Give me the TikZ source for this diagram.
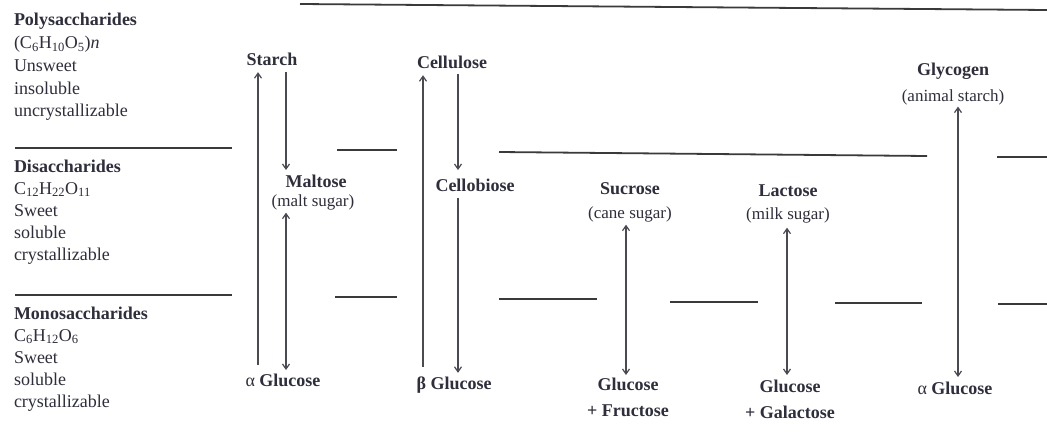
\documentclass[tikz,border=0pt]{standalone}
\usepackage{fontspec}
\setmainfont{Liberation Serif}
\usetikzlibrary{arrows.meta}
\definecolor{txt}{HTML}{2E2E3C}
\definecolor{linec}{HTML}{3A3A3A}
\definecolor{arrc}{HTML}{4A4A52}
\begin{document}
\begin{tikzpicture}[x=1pt,y=-1pt,
  every node/.style={inner sep=0pt, outer sep=0pt, text=txt},
  side/.style={anchor=base west, font=\fontsize{18}{20}\selectfont},
  sideh/.style={anchor=base west, font=\fontsize{18}{20}\selectfont\bfseries},
  lbl/.style={anchor=base, font=\fontsize{18}{20}\selectfont\bfseries},
  sub/.style={anchor=base, font=\fontsize{17}{20}\selectfont},
  pair/.style={align=center, font=\fontsize{18}{26}\selectfont\bfseries},
  rule/.style={draw=linec, line width=1.8pt},
  tipa/.tip={Straight Barb[length=5pt,width=7pt]},
  arr/.style={draw=arrc, line width=1.2pt, -tipa},
  darr/.style={draw=arrc, line width=1.2pt, tipa-tipa}]
\useasboundingbox[fill=white] (0,0) rectangle (1047,436);

% ---- left column ----
\node[sideh] (p1) at (14,26) {Polysaccharides};
\node[side]  (p2) at (14,49) {(C\textsubscript{6}H\textsubscript{10}O\textsubscript{5})\textit{n}};
\node[side]  (p3) at (14,72) {Unsweet};
\node[side]  (p4) at (14,94) {insoluble};
\node[side]  (p5) at (14,116) {uncrystallizable};

\node[sideh] (d1) at (14,172) {Disaccharides};
\node[side]  (d2) at (14,194) {C\textsubscript{12}H\textsubscript{22}O\textsubscript{11}};
\node[side]  (d3) at (14,216) {Sweet};
\node[side]  (d4) at (14,238) {soluble};
\node[side]  (d5) at (14,260) {crystallizable};

\node[sideh] (m1) at (14,319) {Monosaccharides};
\node[side]  (m2) at (14,341) {C\textsubscript{6}H\textsubscript{12}O\textsubscript{6}};
\node[side]  (m3) at (14,363) {Sweet};
\node[side]  (m4) at (14,385) {soluble};
\node[side]  (m5) at (14,407) {crystallizable};

% ---- rules ----
\draw[rule] (300,4) -- (1047,10);
\draw[rule] (15,148) -- (232,148);
\draw[rule] (337,150) -- (397,150);
\draw[rule] (499,152) -- (927,156);
\draw[rule] (997,157) -- (1047,157);
\draw[rule] (15,295) -- (232,295);
\draw[rule] (335,297) -- (397,297);
\draw[rule] (499,299) -- (597,299);
\draw[rule] (670,302) -- (758,302);
\draw[rule] (835,303) -- (922,303);
\draw[rule] (998,304) -- (1047,304);

% ---- labels ----
\node[lbl] (st)   at (272,66) {Starch};
\node[lbl] (mal)  at (316,187) {Maltose};
\node[sub] (mals) at (313,206) {(malt sugar)};
\node[lbl] (ag1)  at (283,386) {\normalfont\fontsize{18}{20}\selectfont α \bfseries Glucose};

\node[lbl] (cel)  at (452,69) {Cellulose};
\node[lbl] (cb)   at (475,191) {Cellobiose};
\node[lbl] (bg)   at (454,389) {β Glucose};

\node[lbl] (suc)  at (630,194) {Sucrose};
\node[sub] (sucs) at (630,218) {(cane sugar)};
\node[pair,anchor=north] (gf) at (628,378) {Glucose\\+ Fructose};

\node[lbl] (lac)  at (788,196) {Lactose};
\node[sub] (lacs) at (788,219) {(milk sugar)};
\node[pair,anchor=north] (gg) at (790,380) {Glucose\\+ Galactose};

\node[lbl] (gly)  at (953,76) {Glycogen};
\node[sub] (glys) at (953,101) {(animal starch)};
\node[lbl] (ag2)  at (955,394) {\normalfont\fontsize{18}{20}\selectfont α \bfseries Glucose};

% ---- arrows ----
\draw[arr] ([xshift=-25pt,yshift=8.5pt]ag1.north) -- ([xshift=-14pt,yshift=-6pt]st.south);
\draw[arr] ([xshift=14pt,yshift=-6pt]st.south) -- ([xshift=-30pt,yshift=4.5pt]mal.north);
\draw[darr] ([xshift=-27pt,yshift=-3pt]mals.south) -- ([xshift=3pt,yshift=3.5pt]ag1.north);

\draw[arr] ([xshift=-31pt,yshift=9.5pt]bg.north) -- ([xshift=-29pt,yshift=-6pt]cel.south);
\draw[arr] ([xshift=6pt,yshift=-5pt]cel.south) -- ([xshift=-17pt,yshift=8.5pt]cb.north);
\draw[arr] ([xshift=-17pt,yshift=-7pt]cb.south) -- ([xshift=4pt,yshift=3.5pt]bg.north);

\draw[darr] ([xshift=-4pt,yshift=-3pt]sucs.south) -- ([xshift=-2pt,yshift=3pt]gf.north);
\draw[darr] ([xshift=-1pt,yshift=-5pt]lacs.south) -- ([xshift=-3pt,yshift=5pt]gg.north);
\draw[darr] ([xshift=5pt,yshift=-2pt]glys.south) -- ([xshift=3pt,yshift=4.5pt]ag2.north);
\end{tikzpicture}
\end{document}
